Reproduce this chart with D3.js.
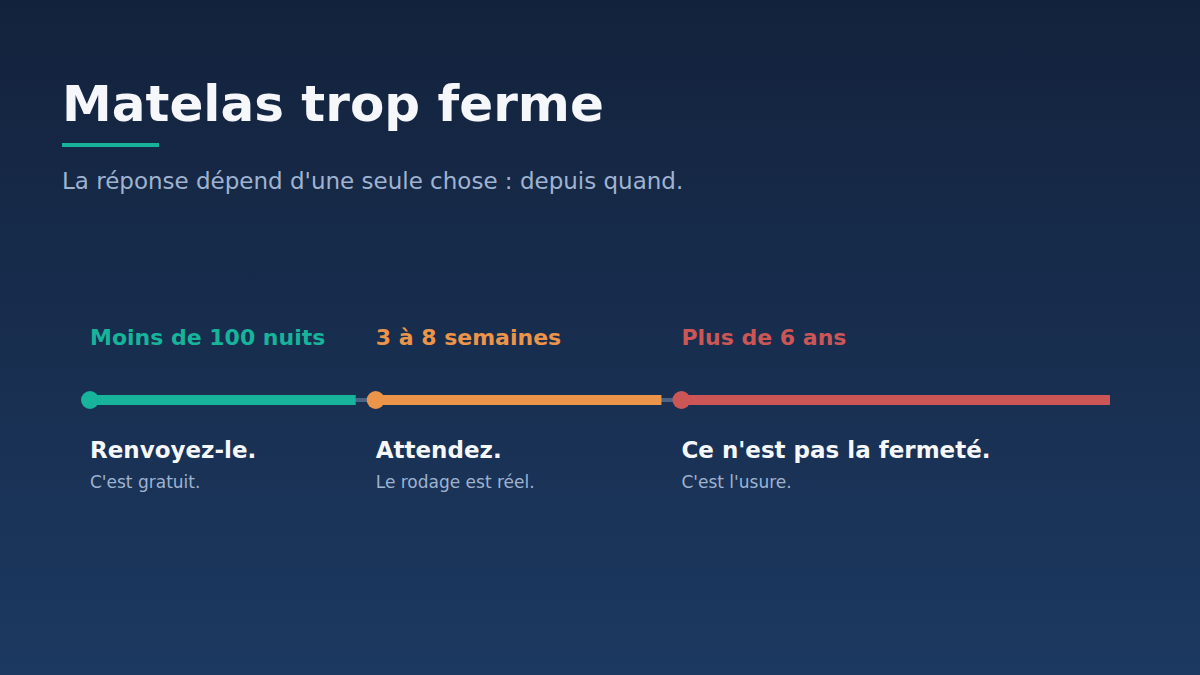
<!DOCTYPE html>
<html><head><meta charset="utf-8">
<script src="https://cdn.jsdelivr.net/npm/d3@7"></script>
<style>body{margin:0;background:#14233d}</style>
</head><body>
<script>
const phases = ['Moins de 100 nuits', '3 à 8 semaines', 'Plus de 6 ans']
const starts = [0, 1, 2.07]
const ends = [0.93, 2.0, 3.57]
const verdicts = ['Renvoyez-le.', 'Attendez.', "Ce n'est pas la fermeté."]
const notes = ["C'est gratuit.", 'Le rodage est réel.', "C'est l'usure."]
const colors = ['#17b39b', '#eb944a', '#cc5656']

const W = 1200, H = 675
let svg = d3.select('body').append('svg').attr('width', W).attr('height', H)

let grad = svg.append('defs').append('linearGradient').attr('id', 'bg')
              .attr('x1', 0).attr('y1', 0).attr('x2', 0).attr('y2', 1)
grad.append('stop').attr('offset', '0%').attr('stop-color', '#13223c')
grad.append('stop').attr('offset', '100%').attr('stop-color', '#1c3961')
svg.append('rect').attr('width', W).attr('height', H).attr('fill', 'url(#bg)')

const font = 'DejaVu Sans, sans-serif'
svg.append('text').attr('x', 62).attr('y', 121).attr('fill', '#f5f7fa')
   .attr('font-family', font).attr('font-size', 50).attr('font-weight', 'bold')
   .text('Matelas trop ferme')
svg.append('rect').attr('x', 62).attr('y', 143).attr('width', 97).attr('height', 4).attr('fill', '#17b39b')
svg.append('text').attr('x', 62).attr('y', 189).attr('fill', '#9fb3d1')
   .attr('font-family', font).attr('font-size', 23)
   .text("La réponse dépend d'une seule chose : depuis quand.")

let x = d3.scaleLinear().domain([0, 3.57]).range([90, 1110])
const lineY = 400

svg.append('line').attr('x1', x(0)).attr('x2', x(3.57)).attr('y1', lineY).attr('y2', lineY)
   .attr('stroke', '#4a6283').attr('stroke-width', 4)

let g = svg.selectAll('g.phase').data(phases).join('g').attr('class', 'phase')
g.append('rect').attr('x', (d, i) => x(starts[i])).attr('y', lineY - 5)
 .attr('width', (d, i) => x(ends[i]) - x(starts[i])).attr('height', 10)
 .attr('fill', (d, i) => colors[i])
g.append('circle').attr('cx', (d, i) => x(starts[i])).attr('cy', lineY).attr('r', 9)
 .attr('fill', (d, i) => colors[i])
g.append('text').attr('x', (d, i) => x(starts[i])).attr('y', 345)
 .attr('fill', (d, i) => colors[i]).attr('font-family', font).attr('font-size', 22).attr('font-weight', 'bold')
 .text(d => d)
g.append('text').attr('x', (d, i) => x(starts[i])).attr('y', 458)
 .attr('fill', '#f5f7fa').attr('font-family', font).attr('font-size', 23).attr('font-weight', 'bold')
 .text((d, i) => verdicts[i])
g.append('text').attr('x', (d, i) => x(starts[i])).attr('y', 488)
 .attr('fill', '#9fb3d1').attr('font-family', font).attr('font-size', 17)
 .text((d, i) => notes[i])
</script>
</body></html>
